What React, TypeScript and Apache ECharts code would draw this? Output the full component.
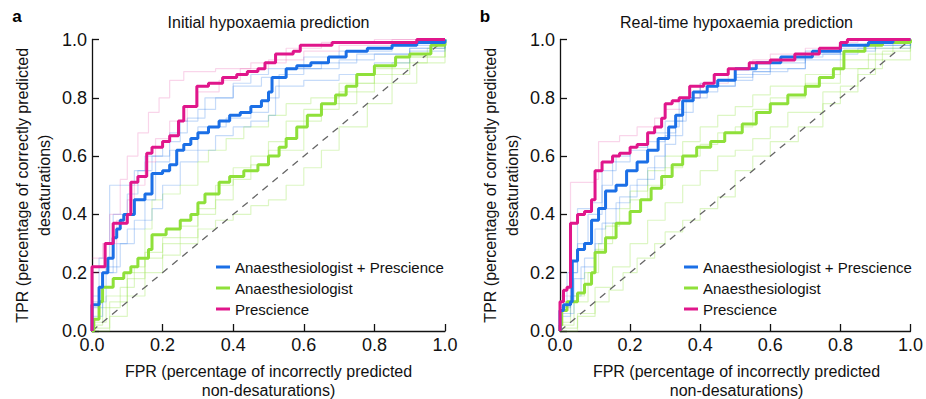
import React, { useEffect, useRef } from "react";
import * as echarts from "echarts";

const FONT = "'Liberation Sans', Arial, Helvetica, sans-serif";

const panelTitles = ["Initial hypoxaemia prediction", "Real-time hypoxaemia prediction"];
const panelLetters = ["a", "b"];
const legendNames = ["Anaesthesiologist + Prescience", "Anaesthesiologist", "Prescience"];
const tickValues = [0, 0.2, 0.4, 0.6, 0.8, 1.0];
const xAxisTitle = "FPR (percentage of incorrectly predicted\nnon-desaturations)";
const yAxisTitle = "TPR (percentage of correctly predicted\ndesaturations)";
const diagonal = [[0, 0], [1, 1]];

// ---- Panel a: initial hypoxaemia prediction ----
const aCombined = [[0, 0], [0, 0.09], [0.02, 0.15], [0.03, 0.2], [0.045, 0.25], [0.06, 0.32], [0.07, 0.35], [0.08, 0.38], [0.09, 0.4], [0.12, 0.45], [0.15, 0.47], [0.17, 0.54], [0.2, 0.55], [0.22, 0.57], [0.24, 0.62], [0.26, 0.64], [0.28, 0.66], [0.3, 0.68], [0.33, 0.7], [0.36, 0.72], [0.39, 0.74], [0.42, 0.75], [0.45, 0.77], [0.48, 0.79], [0.5, 0.82], [0.51, 0.87], [0.55, 0.9], [0.58, 0.91], [0.62, 0.92], [0.67, 0.94], [0.72, 0.96], [0.78, 0.97], [0.85, 0.98], [0.92, 0.99], [1, 1]];
const aAnaesth = [[0, 0], [0.005, 0.04], [0.02, 0.1], [0.03, 0.15], [0.06, 0.18], [0.09, 0.2], [0.11, 0.22], [0.13, 0.25], [0.16, 0.28], [0.17, 0.33], [0.21, 0.35], [0.25, 0.38], [0.28, 0.4], [0.3, 0.44], [0.32, 0.47], [0.36, 0.51], [0.39, 0.53], [0.43, 0.55], [0.47, 0.57], [0.5, 0.6], [0.53, 0.63], [0.55, 0.66], [0.58, 0.7], [0.61, 0.74], [0.65, 0.78], [0.69, 0.81], [0.72, 0.84], [0.75, 0.88], [0.8, 0.91], [0.86, 0.94], [0.9, 0.95], [0.96, 0.98], [1, 1]];
const aPrescience = [[0, 0], [0, 0.22], [0.037, 0.3], [0.06, 0.37], [0.1, 0.4], [0.11, 0.51], [0.13, 0.53], [0.155, 0.61], [0.17, 0.63], [0.2, 0.65], [0.22, 0.67], [0.245, 0.72], [0.26, 0.77], [0.297, 0.84], [0.33, 0.85], [0.37, 0.87], [0.41, 0.88], [0.44, 0.89], [0.47, 0.9], [0.49, 0.92], [0.52, 0.95], [0.57, 0.96], [0.59, 0.98], [0.68, 0.99], [0.92, 1], [1, 1]];
const aFaintBlue1 = [[0, 0.12], [0.02, 0.25], [0.05, 0.5], [0.12, 0.55], [0.15, 0.6], [0.2, 0.65], [0.25, 0.72], [0.3, 0.76], [0.35, 0.8], [0.4, 0.85], [0.45, 0.88], [0.5, 0.9], [0.6, 0.94], [0.7, 0.96], [0.85, 0.98], [1, 1]];
const aFaintBlue2 = [[0, 0.05], [0.03, 0.2], [0.07, 0.3], [0.1, 0.35], [0.15, 0.45], [0.18, 0.58], [0.22, 0.62], [0.3, 0.7], [0.38, 0.73], [0.45, 0.75], [0.5, 0.8], [0.53, 0.88], [0.6, 0.9], [0.7, 0.93], [0.8, 0.95], [0.9, 0.97], [1, 1]];
const aFaintBlue3 = [[0, 0.08], [0.03, 0.2], [0.06, 0.4], [0.1, 0.47], [0.13, 0.55], [0.17, 0.6], [0.22, 0.68], [0.27, 0.73], [0.32, 0.8], [0.4, 0.84], [0.48, 0.87], [0.55, 0.9], [0.65, 0.92], [0.75, 0.95], [0.9, 0.97], [1, 1]];
const aFaintBlue4 = [[0, 0.1], [0.04, 0.22], [0.08, 0.3], [0.12, 0.38], [0.17, 0.42], [0.2, 0.5], [0.25, 0.58], [0.3, 0.62], [0.35, 0.67], [0.4, 0.7], [0.45, 0.72], [0.5, 0.74], [0.52, 0.84], [0.6, 0.86], [0.7, 0.88], [0.8, 0.92], [0.9, 0.96], [1, 1]];
const aFaintPink1 = [[0, 0.25], [0.03, 0.3], [0.05, 0.4], [0.08, 0.52], [0.1, 0.6], [0.13, 0.68], [0.16, 0.75], [0.19, 0.8], [0.22, 0.86], [0.26, 0.89], [0.35, 0.9], [0.45, 0.92], [0.55, 0.97], [0.65, 0.99], [0.8, 1], [1, 1]];
const aFaintPink2 = [[0, 0.2], [0.04, 0.3], [0.07, 0.38], [0.1, 0.45], [0.12, 0.5], [0.15, 0.58], [0.18, 0.66], [0.22, 0.72], [0.27, 0.77], [0.3, 0.82], [0.36, 0.86], [0.42, 0.9], [0.5, 0.93], [0.6, 0.96], [0.7, 0.98], [0.85, 1], [1, 1]];
const aFaintGreen1 = [[0, 0.02], [0.03, 0.08], [0.08, 0.15], [0.12, 0.22], [0.15, 0.35], [0.17, 0.45], [0.2, 0.47], [0.25, 0.5], [0.3, 0.58], [0.33, 0.62], [0.38, 0.66], [0.43, 0.7], [0.5, 0.74], [0.55, 0.78], [0.62, 0.8], [0.7, 0.85], [0.8, 0.9], [0.9, 0.94], [1, 1]];
const aFaintGreen2 = [[0, 0], [0.05, 0.1], [0.1, 0.18], [0.15, 0.25], [0.2, 0.3], [0.25, 0.36], [0.3, 0.42], [0.35, 0.5], [0.4, 0.56], [0.45, 0.6], [0.5, 0.65], [0.55, 0.72], [0.6, 0.76], [0.7, 0.82], [0.8, 0.88], [0.9, 0.94], [1, 1]];
const aFaintGreen3 = [[0, 0.01], [0.05, 0.05], [0.1, 0.12], [0.15, 0.2], [0.2, 0.26], [0.25, 0.3], [0.3, 0.35], [0.35, 0.38], [0.4, 0.4], [0.45, 0.43], [0.5, 0.45], [0.55, 0.5], [0.6, 0.56], [0.65, 0.62], [0.7, 0.7], [0.78, 0.78], [0.85, 0.85], [0.92, 0.92], [1, 1]];
const aFaintGreen4 = [[0, 0.03], [0.04, 0.12], [0.1, 0.2], [0.15, 0.27], [0.2, 0.32], [0.3, 0.4], [0.35, 0.45], [0.4, 0.52], [0.45, 0.57], [0.5, 0.62], [0.6, 0.72], [0.65, 0.78], [0.75, 0.85], [0.85, 0.92], [0.95, 0.97], [1, 1]];

// ---- Panel b: real-time hypoxaemia prediction ----
const bCombined = [[0, 0], [0, 0.07], [0.01, 0.09], [0.03, 0.1], [0.035, 0.24], [0.05, 0.28], [0.07, 0.3], [0.09, 0.38], [0.11, 0.42], [0.13, 0.48], [0.16, 0.5], [0.19, 0.55], [0.22, 0.58], [0.25, 0.62], [0.28, 0.66], [0.31, 0.7], [0.33, 0.74], [0.35, 0.79], [0.38, 0.82], [0.42, 0.84], [0.45, 0.86], [0.5, 0.9], [0.56, 0.92], [0.63, 0.94], [0.72, 0.96], [0.8, 0.98], [0.88, 0.99], [0.95, 1], [1, 1]];
const bAnaesth = [[0, 0], [0, 0.02], [0.005, 0.07], [0.02, 0.1], [0.05, 0.13], [0.07, 0.16], [0.09, 0.2], [0.1, 0.27], [0.13, 0.32], [0.16, 0.37], [0.2, 0.41], [0.23, 0.45], [0.26, 0.49], [0.29, 0.53], [0.32, 0.57], [0.35, 0.6], [0.39, 0.63], [0.43, 0.65], [0.47, 0.68], [0.52, 0.71], [0.56, 0.75], [0.6, 0.78], [0.65, 0.81], [0.7, 0.84], [0.74, 0.87], [0.78, 0.9], [0.81, 0.96], [0.87, 0.98], [0.92, 0.99], [1, 1]];
const bPrescience = [[0, 0], [0, 0.1], [0.01, 0.14], [0.02, 0.15], [0.03, 0.37], [0.05, 0.4], [0.07, 0.41], [0.09, 0.45], [0.1, 0.55], [0.12, 0.58], [0.15, 0.6], [0.17, 0.61], [0.2, 0.63], [0.22, 0.64], [0.25, 0.68], [0.27, 0.7], [0.29, 0.73], [0.3, 0.78], [0.32, 0.79], [0.34, 0.8], [0.37, 0.84], [0.41, 0.85], [0.44, 0.88], [0.48, 0.9], [0.54, 0.92], [0.6, 0.93], [0.67, 0.95], [0.74, 0.97], [0.8, 0.99], [0.82, 1], [1, 1]];
const bFaintBlue1 = [[0, 0.08], [0.03, 0.2], [0.05, 0.42], [0.09, 0.44], [0.12, 0.5], [0.15, 0.58], [0.2, 0.62], [0.25, 0.65], [0.3, 0.68], [0.33, 0.7], [0.34, 0.8], [0.4, 0.84], [0.5, 0.88], [0.6, 0.92], [0.7, 0.95], [0.8, 0.97], [0.9, 0.99], [1, 1]];
const bFaintBlue2 = [[0, 0.05], [0.03, 0.12], [0.06, 0.22], [0.1, 0.35], [0.13, 0.42], [0.17, 0.46], [0.22, 0.52], [0.27, 0.6], [0.3, 0.67], [0.35, 0.75], [0.38, 0.82], [0.45, 0.86], [0.5, 0.9], [0.6, 0.93], [0.7, 0.96], [0.8, 0.98], [1, 1]];
const bFaintBlue3 = [[0, 0.1], [0.02, 0.2], [0.05, 0.3], [0.08, 0.4], [0.12, 0.55], [0.16, 0.6], [0.2, 0.63], [0.25, 0.68], [0.3, 0.72], [0.35, 0.8], [0.4, 0.85], [0.45, 0.86], [0.55, 0.89], [0.6, 0.9], [0.7, 0.94], [0.75, 0.95], [0.85, 0.97], [1, 1]];
const bFaintBlue4 = [[0, 0.06], [0.04, 0.18], [0.07, 0.25], [0.1, 0.3], [0.12, 0.37], [0.16, 0.44], [0.2, 0.5], [0.25, 0.56], [0.3, 0.64], [0.33, 0.72], [0.36, 0.8], [0.42, 0.84], [0.5, 0.87], [0.55, 0.89], [0.65, 0.9], [0.7, 0.93], [0.8, 0.96], [0.9, 0.98], [1, 1]];
const bFaintPink1 = [[0, 0.12], [0.03, 0.51], [0.1, 0.52], [0.11, 0.65], [0.17, 0.67], [0.22, 0.7], [0.27, 0.73], [0.3, 0.76], [0.35, 0.8], [0.4, 0.85], [0.48, 0.9], [0.55, 0.93], [0.6, 0.95], [0.7, 0.97], [0.8, 0.99], [0.85, 1], [1, 1]];
const bFaintGreen1 = [[0, 0.02], [0.04, 0.1], [0.08, 0.2], [0.11, 0.3], [0.15, 0.37], [0.2, 0.45], [0.25, 0.5], [0.3, 0.56], [0.35, 0.6], [0.4, 0.64], [0.45, 0.68], [0.5, 0.7], [0.55, 0.76], [0.6, 0.8], [0.7, 0.85], [0.8, 0.9], [0.88, 0.95], [0.95, 0.99], [1, 1]];
const bFaintGreen2 = [[0, 0.01], [0.05, 0.06], [0.1, 0.1], [0.14, 0.14], [0.18, 0.2], [0.22, 0.25], [0.27, 0.3], [0.3, 0.34], [0.35, 0.38], [0.4, 0.42], [0.45, 0.46], [0.5, 0.55], [0.55, 0.6], [0.6, 0.65], [0.68, 0.7], [0.75, 0.78], [0.8, 0.84], [0.85, 0.88], [0.9, 0.93], [1, 1]];
const bFaintGreen3 = [[0, 0.03], [0.03, 0.12], [0.07, 0.2], [0.1, 0.28], [0.13, 0.36], [0.17, 0.42], [0.2, 0.48], [0.25, 0.55], [0.3, 0.6], [0.35, 0.65], [0.4, 0.7], [0.45, 0.74], [0.5, 0.77], [0.55, 0.81], [0.6, 0.84], [0.7, 0.88], [0.8, 0.93], [0.9, 0.97], [1, 1]];
const bFaintGreen4 = [[0, 0], [0.05, 0.05], [0.1, 0.15], [0.15, 0.22], [0.2, 0.3], [0.25, 0.38], [0.3, 0.44], [0.35, 0.5], [0.4, 0.55], [0.45, 0.6], [0.5, 0.62], [0.55, 0.66], [0.6, 0.7], [0.65, 0.75], [0.75, 0.82], [0.85, 0.9], [0.92, 0.96], [1, 1]];

const BLUE = "#1b6fe6";
const GREEN = "#8fe03a";
const MAGENTA = "#e0168b";
const LIGHT_BLUE = "rgba(27,111,230,0.25)";
const LIGHT_GREEN = "rgba(143,224,58,0.3)";
const LIGHT_PINK = "rgba(224,22,139,0.18)";

const panels = [
  {
    combined: aCombined, anaesth: aAnaesth, prescience: aPrescience,
    faintBlue: [aFaintBlue1, aFaintBlue2, aFaintBlue3, aFaintBlue4],
    faintGreen: [aFaintGreen1, aFaintGreen2, aFaintGreen3, aFaintGreen4],
    faintPink: [aFaintPink1, aFaintPink2],
  },
  {
    combined: bCombined, anaesth: bAnaesth, prescience: bPrescience,
    faintBlue: [bFaintBlue1, bFaintBlue2, bFaintBlue3, bFaintBlue4],
    faintGreen: [bFaintGreen1, bFaintGreen2, bFaintGreen3, bFaintGreen4],
    faintPink: [bFaintPink1],
  },
];

const GRID_LEFTS = [92, 560];
const GRID_TOP = 39.5;
const GRID_W = 353;
const GRID_H = 291.5;

export default function App() {
  const ref = useRef<HTMLDivElement>(null);
  useEffect(() => {
    document.body.style.margin = "0";
    const chart = echarts.init(ref.current!, null, { renderer: "svg" });
    const grids: any[] = [];
    const xAxes: any[] = [];
    const yAxes: any[] = [];
    const series: any[] = [];
    const legends: any[] = [];
    const graphics: any[] = [];

    const axisCommon = {
      type: "value",
      min: tickValues[0],
      max: tickValues[tickValues.length - 1],
      interval: 0.2,
      splitLine: { show: false },
      axisLine: { show: true, lineStyle: { color: "#111", width: 1.3 } },
      axisTick: { show: true, inside: true, length: 7, lineStyle: { color: "#111", width: 1.3 } },
      axisLabel: {
        color: "#111",
        fontSize: 18,
        fontFamily: FONT,
        formatter: (v: number) => v.toFixed(1),
      },
    };

    panels.forEach((p, i) => {
      const left = GRID_LEFTS[i];
      grids.push({ left, top: GRID_TOP, width: GRID_W, height: GRID_H });
      xAxes.push({ ...axisCommon, gridIndex: i, axisLabel: { ...axisCommon.axisLabel, margin: 5 } });
      yAxes.push({ ...axisCommon, gridIndex: i, axisLabel: { ...axisCommon.axisLabel, margin: 5 } });

      const line = (name: string, data: number[][], color: string, width: number, z: number) => ({
        type: "line",
        name,
        xAxisIndex: i,
        yAxisIndex: i,
        data,
        step: "end",
        symbol: "none",
        clip: false,
        z,
        lineStyle: { color, width },
        itemStyle: { color },
        silent: true,
      });

      p.faintGreen.forEach((d, k) => series.push(line(`fg${i}${k}`, d, LIGHT_GREEN, 1.2, 1)));
      p.faintBlue.forEach((d, k) => series.push(line(`fb${i}${k}`, d, LIGHT_BLUE, 1.2, 1)));
      p.faintPink.forEach((d, k) => series.push(line(`fp${i}${k}`, d, LIGHT_PINK, 1.2, 1)));
      series.push({
        type: "line",
        name: `diag${i}`,
        xAxisIndex: i,
        yAxisIndex: i,
        data: diagonal,
        symbol: "none",
        z: 2,
        lineStyle: { color: "#666", width: 1.3, type: [7, 6] },
        silent: true,
      });
      series.push(line(legendNames[1], p.anaesth, GREEN, 3, 3));
      series.push(line(legendNames[0], p.combined, BLUE, 3, 4));
      series.push(line(legendNames[2], p.prescience, MAGENTA, 3, 5));

      legends.push({
        data: legendNames.map((n) => ({ name: n, icon: "rect" })),
        orient: "vertical",
        left: left + 124,
        top: 259.5,
        padding: 0,
        itemWidth: 14,
        itemHeight: 3,
        itemGap: 6,
        selectedMode: false,
        textStyle: { fontSize: 15, fontFamily: FONT, color: "#111", lineHeight: 15 },
      });

      const cx = left + GRID_W / 2;
      graphics.push({
        type: "text",
        x: cx,
        y: 22,
        style: { text: panelTitles[i], fontSize: 16, fontFamily: FONT, fill: "#111", align: "center", verticalAlign: "middle" },
      });
      graphics.push({
        type: "text",
        x: left - 75,
        y: 16,
        style: { text: panelLetters[i], fontSize: 17, fontWeight: "bold", fontFamily: FONT, fill: "#000", align: "center", verticalAlign: "middle" },
      });
      graphics.push({
        type: "text",
        x: cx,
        y: 381,
        style: { text: xAxisTitle, fontSize: 16, lineHeight: 19, fontFamily: FONT, fill: "#111", align: "center", verticalAlign: "middle" },
      });
      graphics.push({
        type: "text",
        x: left - 59,
        y: GRID_TOP + GRID_H / 2,
        rotation: Math.PI / 2,
        style: { text: yAxisTitle, fontSize: 16, lineHeight: 22, fontFamily: FONT, fill: "#111", align: "center", verticalAlign: "middle" },
      });
    });

    chart.setOption({
      animation: false,
      backgroundColor: "#fff",
      textStyle: { fontFamily: FONT },
      grid: grids,
      xAxis: xAxes,
      yAxis: yAxes,
      legend: legends,
      series,
      graphic: graphics,
    });
    return () => chart.dispose();
  }, []);
  return <div ref={ref} style={{ width: 926, height: 399 }} />;
}
